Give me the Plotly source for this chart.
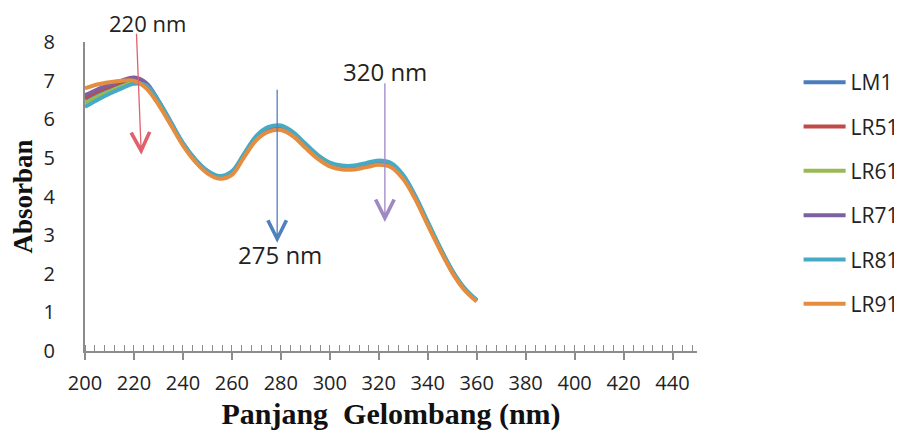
import plotly.graph_objects as go

wavelength = [200, 205, 210, 215, 220, 225, 230, 235, 240, 245, 250, 255, 260, 265, 270,
              275, 280, 285, 290, 295, 300, 305, 310, 315, 320, 325, 330, 335, 340, 345,
              350, 355, 360]

LM1 = [6.52, 6.68, 6.82, 6.95, 7.04, 6.90, 6.45, 5.90, 5.35, 4.93, 4.63, 4.49, 4.60, 5.05, 5.50,
       5.70, 5.74, 5.58, 5.30, 5.02, 4.82, 4.74, 4.74, 4.80, 4.86, 4.80, 4.50, 3.96, 3.30, 2.66,
       2.06, 1.60, 1.30]
LR51 = [6.56, 6.72, 6.85, 6.97, 7.05, 6.91, 6.46, 5.91, 5.36, 4.94, 4.64, 4.50, 4.61, 5.06, 5.51,
        5.73, 5.77, 5.60, 5.31, 5.03, 4.83, 4.75, 4.75, 4.81, 4.87, 4.81, 4.51, 3.97, 3.31, 2.66,
        2.06, 1.61, 1.30]
LR61 = [6.42, 6.58, 6.72, 6.85, 6.95, 6.86, 6.44, 5.90, 5.36, 4.94, 4.64, 4.50, 4.61, 5.07, 5.52,
        5.75, 5.79, 5.62, 5.32, 5.04, 4.84, 4.76, 4.76, 4.83, 4.89, 4.83, 4.52, 3.98, 3.32, 2.67,
        2.07, 1.61, 1.31]
LR71 = [6.62, 6.77, 6.89, 7.00, 7.08, 6.94, 6.48, 5.92, 5.37, 4.95, 4.65, 4.51, 4.62, 5.07, 5.52,
        5.74, 5.78, 5.61, 5.32, 5.04, 4.84, 4.76, 4.76, 4.82, 4.88, 4.82, 4.52, 3.97, 3.31, 2.66,
        2.06, 1.61, 1.30]
LR81 = [6.32, 6.50, 6.66, 6.80, 6.92, 6.88, 6.48, 5.94, 5.39, 4.97, 4.67, 4.53, 4.65, 5.11, 5.57,
        5.80, 5.84, 5.67, 5.37, 5.08, 4.88, 4.80, 4.80, 4.87, 4.93, 4.87, 4.56, 4.01, 3.35, 2.69,
        2.09, 1.63, 1.32]
LR91 = [6.80, 6.90, 6.96, 7.00, 7.00, 6.80, 6.38, 5.86, 5.32, 4.90, 4.60, 4.46, 4.56, 5.02, 5.46,
        5.68, 5.72, 5.56, 5.26, 4.98, 4.78, 4.70, 4.70, 4.76, 4.82, 4.76, 4.45, 3.92, 3.26, 2.62,
        2.03, 1.58, 1.28]

series_names = ["LM1", "LR51", "LR61", "LR71", "LR81", "LR91"]
series_values = [LM1, LR51, LR61, LR71, LR81, LR91]
series_colors = ["#4A7EBB", "#BE4B48", "#98B954", "#7D60A0", "#46AAC5", "#E58C3F"]

# peak annotations: label, arrow tail (x, y), arrow head (x, y), label position, colour
peak_labels = ["220 nm", "275 nm", "320 nm"]
arrow_tail = [(221.0, 8.25), (278.5, 6.80), (322.5, 6.97)]
arrow_head = [(223.0, 5.08), (278.5, 2.80), (322.5, 3.34)]
label_x = [225.5, 279.5, 322.5]
label_y_paper = [1.062, 0.311, 0.904]
label_sizes = [22, 24, 24]
arrow_colors = ["#E0606E", "#4F81BD", "#9F88C6"]

fig = go.Figure()
for name, vals, col in zip(series_names, series_values, series_colors):
    fig.add_trace(go.Scatter(
        x=wavelength, y=vals, name=name, mode="lines",
        line=dict(color=col, width=4, shape="spline"),
        legendgroup=name,
    ))

for lab, tail, head, lx, ly, fs, col in zip(peak_labels, arrow_tail, arrow_head, label_x,
                                            label_y_paper, label_sizes, arrow_colors):
    fig.add_annotation(
        x=head[0], y=head[1], ax=tail[0], ay=tail[1],
        xref="x", yref="y", axref="x", ayref="y",
        text="", showarrow=True, arrowhead=5, arrowsize=2.8, arrowwidth=1.3,
        arrowcolor=col,
    )
    fig.add_annotation(
        x=lx, y=ly, xref="x", yref="paper", text=lab, showarrow=False,
        xanchor="center", yanchor="middle",
        font=dict(family="Open Sans", size=fs, color="#222222"),
    )

# the page body adds an 8px offset, so the figure is 8px smaller and margins compensate
fig.update_layout(
    width=894, height=426,
    margin=dict(l=77, r=205, t=34, b=83, autoexpand=False),
    paper_bgcolor="white", plot_bgcolor="white",
    showlegend=True,
    legend=dict(
        x=1.166, y=0.935, xanchor="left", yanchor="top",
        font=dict(family="Open Sans", size=21, color="#222222"),
        tracegroupgap=14, itemwidth=42, bgcolor="rgba(0,0,0,0)",
    ),
    xaxis=dict(
        range=[200, 450], tick0=200, dtick=20, automargin=False,
        showline=True, linecolor="#8C8C8C", linewidth=2,
        ticks="outside", ticklen=7, tickcolor="#8C8C8C", tickwidth=1.5,
        minor=dict(dtick=4, tick0=200, ticks="inside", ticklen=6, tickcolor="#8C8C8C", tickwidth=1),
        showgrid=False, zeroline=False,
        tickfont=dict(family="Open Sans", size=20, color="#222222"),
        ticklabelstandoff=6,
        title=dict(text="Panjang  Gelombang (nm)", standoff=8,
                   font=dict(family="Liberation Serif", size=30, color="#111111", weight="bold")),
    ),
    yaxis=dict(
        range=[0, 8], dtick=1, automargin=False,
        showline=True, linecolor="#8C8C8C", linewidth=2,
        ticks="", showgrid=False, zeroline=False,
        tickfont=dict(family="Open Sans", size=20, color="#222222"),
        ticklabelstandoff=24,
        title=dict(text="Absorban", standoff=8,
                   font=dict(family="Liberation Serif", size=27, color="#111111", weight="bold")),
    ),
)

fig.write_html("out.html")
